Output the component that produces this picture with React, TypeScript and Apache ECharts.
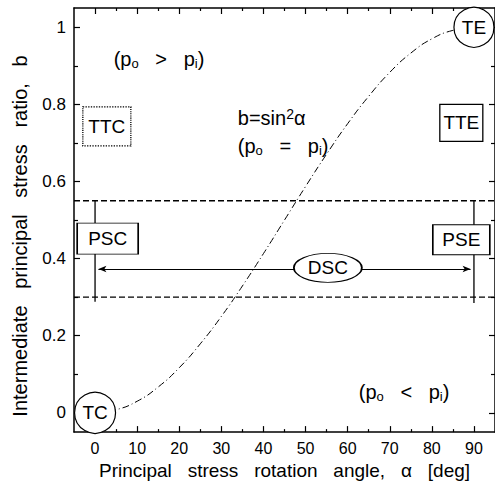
import React, { useEffect, useRef } from 'react';
import * as echarts from 'echarts';

const xMajorTicks = [0, 10, 20, 30, 40, 50, 60, 70, 80, 90];
const xMinorTicks = [5, 15, 25, 35, 45, 55, 65, 75, 85];
const yMajorTicks = [0, 0.2, 0.4, 0.6, 0.8, 1];
const yMinorTicks = [0.1, 0.3, 0.5, 0.7, 0.9];

// b = sin^2(alpha)
const curveAlpha = [0, 5, 10, 15, 20, 25, 30, 35, 40, 45, 50, 55, 60, 65, 70, 75, 80, 85, 90];
const curveB = [0, 0.008, 0.03, 0.067, 0.117, 0.179, 0.25, 0.329, 0.413, 0.5, 0.587, 0.671, 0.75, 0.821, 0.883, 0.933, 0.97, 0.992, 1];

const boundSpanX = [-5, 95];
const boundUpper = 0.55;
const boundLower = 0.3;

const pscLineX = [0, 0];
const pscLineY = [0.55, 0.288];
const pseLineX = [90, 90];
const pseLineY = [0.55, 0.285];
const dscArrowX = [0.8, 89.2];
const dscArrowY = 0.373;

const markerNames = ['TC', 'TE', 'TTC', 'TTE', 'PSC', 'PSE', 'DSC'];
const markerX = [0, 90, 2.8, 87, 3, 87, 55.3];
const markerY = [0, 1, 0.743, 0.752, 0.452, 0.449, 0.376];

const noteTexts = [
  '({m|p}{s|o}   >   {m|p}{s|i})',
  '({m|p}{s|o}   <   {m|p}{s|i})',
  'b=sin{sup|2}α',
  '({m|p}{s|o}   =   {m|p}{s|i})',
];
const noteX = [15.2, 73.4, 33.9, 33.9];
const noteY = [0.917, 0.055, 0.764, 0.691];

const xName = 'Principal   stress   rotation   angle,   α   [deg]';
const yName = 'Intermediate   principal   stress   ratio,   b';

const FONT = 'Liberation Sans, Arial, Helvetica, sans-serif';
const ELLIPSE = 'path://M0,50 A50,50 0 1,1 100,50 A50,50 0 1,1 0,50 Z';

const markerStyle: Record<string, any> = {
  TC: { symbol: 'circle', size: 41, dash: 'solid' },
  TE: { symbol: 'circle', size: 40, dash: 'solid' },
  TTC: { symbol: 'rect', size: [48, 39], dash: 'dotted' },
  TTE: { symbol: 'rect', size: [43, 37], dash: 'solid' },
  PSC: { symbol: 'rect', size: [61, 31], dash: 'solid' },
  PSE: { symbol: 'rect', size: [57, 30], dash: 'solid' },
  DSC: { symbol: ELLIPSE, size: [68, 29], dash: 'solid' },
};

const richStyles = {
  m: { fontSize: 20, fontFamily: FONT, fill: '#000', color: '#000', lineHeight: 22 },
  s: { fontSize: 13, fontFamily: FONT, fill: '#000', color: '#000', lineHeight: 22, verticalAlign: 'bottom' },
  sup: { fontSize: 14, fontFamily: FONT, fill: '#000', color: '#000', lineHeight: 22, verticalAlign: 'top' },
};

function xAxisDef(position: string, ticks: number[], len: number, showLine: boolean, showLabel: boolean) {
  return {
    type: 'value',
    min: -5,
    max: 95,
    position,
    axisLine: { show: showLine, onZero: false, lineStyle: { color: '#000', width: 1.5 } },
    axisTick: { show: true, inside: true, length: len, customValues: ticks, lineStyle: { color: '#000', width: 1.2 } },
    axisLabel: showLabel
      ? { show: true, customValues: ticks, color: '#000', fontSize: 16, fontFamily: FONT, margin: 8 }
      : { show: false },
    splitLine: { show: false },
  };
}

function yAxisDef(position: string, ticks: number[], len: number, showLine: boolean, showLabel: boolean) {
  return {
    type: 'value',
    min: -0.05,
    max: 1.05,
    position,
    axisLine: { show: showLine, onZero: false, lineStyle: { color: '#000', width: 1.5 } },
    axisTick: { show: true, inside: true, length: len, customValues: ticks, lineStyle: { color: '#000', width: 1.2 } },
    axisLabel: showLabel
      ? { show: true, customValues: ticks, color: '#000', fontSize: 17, fontFamily: FONT, margin: 8, formatter: (v: number) => String(+v.toFixed(2)) }
      : { show: false },
    splitLine: { show: false },
  };
}

export default function App() {
  const ref = useRef<HTMLDivElement>(null);
  useEffect(() => {
    if (!ref.current) return;
    const chart = echarts.init(ref.current, null, { renderer: 'svg' });
    const xa0 = { ...xAxisDef('bottom', xMajorTicks, 6, true, true), name: xName, nameLocation: 'middle', nameGap: 26, nameTextStyle: { color: '#000', fontSize: 19, fontFamily: FONT } };
    const yNameGraphic = {
      type: 'text',
      x: 20,
      y: 236,
      rotation: Math.PI / 2,
      style: { text: yName, fontSize: 20, fontFamily: FONT, fill: '#000', align: 'center', verticalAlign: 'middle' },
    };
    const option: any = {
      animation: false,
      backgroundColor: '#fff',
      grid: { left: 74, top: 8, bottom: 52, right: -2, containLabel: false },
      xAxis: [
        xa0,
        xAxisDef('bottom', xMinorTicks, 3, false, false),
        xAxisDef('top', xMajorTicks, 6, true, false),
        xAxisDef('top', xMinorTicks, 3, false, false),
      ],
      yAxis: [
        yAxisDef('left', yMajorTicks, 6, true, true),
        yAxisDef('left', yMinorTicks, 4, false, false),
        yAxisDef('right', yMajorTicks, 6, true, false),
        yAxisDef('right', yMinorTicks, 4, false, false),
      ],
      graphic: [yNameGraphic],
      series: [
        {
          type: 'line',
          z: 2,
          symbol: 'none',
          smooth: true,
          data: curveAlpha.map((a, i) => [a, curveB[i]]),
          lineStyle: { color: '#000', width: 1, type: [7, 3, 1, 3] },
        },
        {
          type: 'line',
          z: 2,
          symbol: 'none',
          data: boundSpanX.map((x) => [x, boundUpper]),
          lineStyle: { color: '#000', width: 1.3, type: [6, 3] },
        },
        {
          type: 'line',
          z: 2,
          symbol: 'none',
          data: boundSpanX.map((x) => [x, boundLower]),
          lineStyle: { color: '#000', width: 1.3, type: [6, 3] },
        },
        {
          type: 'line',
          z: 2,
          symbol: 'none',
          data: pscLineX.map((x, i) => [x, pscLineY[i]]),
          lineStyle: { color: '#000', width: 1.3 },
        },
        {
          type: 'line',
          z: 2,
          symbol: 'none',
          data: pseLineX.map((x, i) => [x, pseLineY[i]]),
          lineStyle: { color: '#000', width: 1.3 },
          markLine: {
            silent: true,
            symbol: ['arrow', 'arrow'],
            symbolSize: [5, 8],
            label: { show: false },
            lineStyle: { color: '#000', width: 1.2, type: 'solid' },
            data: [[{ coord: [dscArrowX[0], dscArrowY] }, { coord: [dscArrowX[1], dscArrowY] }]],
          },
        },
        {
          type: 'scatter',
          z: 5,
          clip: false,
          data: markerNames.map((n, i) => {
            const st = markerStyle[n];
            return {
              value: [markerX[i], markerY[i]],
              symbol: st.symbol,
              symbolSize: st.size,
              itemStyle: { color: '#fff', borderColor: '#000', borderWidth: 1.2, borderType: st.dash, opacity: 1 },
              label: { show: true, position: 'inside', formatter: n, color: '#000', fontSize: 19, fontFamily: FONT, textBorderWidth: 0 },
            };
          }),
        },
      ],
    };
    chart.setOption(option);
    const notes = noteTexts.map((t, i) => {
      const p = chart.convertToPixel({ xAxisIndex: 0, yAxisIndex: 0 }, [noteX[i], noteY[i]]) as number[];
      return {
        type: 'text',
        x: p[0],
        y: p[1],
        z: 10,
        style: {
          text: t,
          fontSize: 20,
          fontFamily: FONT,
          fill: '#000',
          lineHeight: 22,
          align: i < 2 ? 'center' : 'left',
          verticalAlign: 'middle',
          rich: richStyles,
        },
      };
    });
    chart.setOption({ graphic: [yNameGraphic, ...notes] });
    return () => chart.dispose();
  }, []);
  return <div ref={ref} style={{ position: 'absolute', left: 0, top: 0, width: 495, height: 485 }} />;
}
